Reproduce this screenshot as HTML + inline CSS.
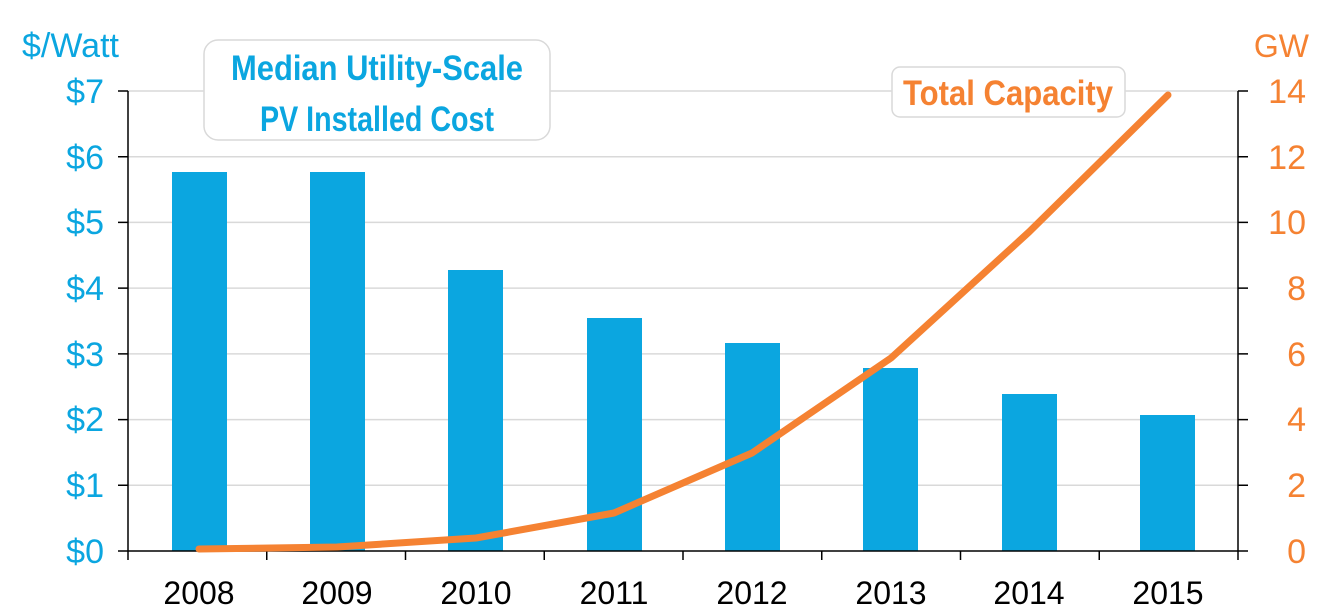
<!DOCTYPE html>
<html><head><meta charset="utf-8"><style>
html,body{margin:0;padding:0;background:#fff;}
svg{display:block;}
</style></head><body>
<svg width="1319" height="615" viewBox="0 0 1319 615" xmlns="http://www.w3.org/2000/svg" font-family="Liberation Sans, Arial, sans-serif">
<g stroke="#d9d9d9" stroke-width="1.5">
<line x1="128" x2="1238" y1="91" y2="91"/>
<line x1="128" x2="1238" y1="156.7" y2="156.7"/>
<line x1="128" x2="1238" y1="222.4" y2="222.4"/>
<line x1="128" x2="1238" y1="288.1" y2="288.1"/>
<line x1="128" x2="1238" y1="353.9" y2="353.9"/>
<line x1="128" x2="1238" y1="419.6" y2="419.6"/>
<line x1="128" x2="1238" y1="485.3" y2="485.3"/>
</g>
<g fill="#0ba6e0">
<rect x="172" y="172" width="55" height="379"/>
<rect x="310" y="172" width="55" height="379"/>
<rect x="448" y="270" width="55" height="281"/>
<rect x="587" y="318" width="55" height="233"/>
<rect x="725" y="343" width="55" height="208"/>
<rect x="863" y="368" width="55" height="183"/>
<rect x="1002" y="394" width="55" height="157"/>
<rect x="1140" y="415" width="55" height="136"/>
</g>
<g stroke="#000" stroke-width="1.5" fill="none">
<line x1="128" y1="91" x2="128" y2="560"/>
<line x1="1238" y1="91" x2="1238" y2="560"/>
<line x1="118" y1="551" x2="1248" y2="551"/>
<path d="M118 91H128M118 156.7H128M118 222.4H128M118 288.1H128M118 353.9H128M118 419.6H128M118 485.3H128"/>
<path d="M1238 91H1248M1238 156.7H1248M1238 222.4H1248M1238 288.1H1248M1238 353.9H1248M1238 419.6H1248M1238 485.3H1248"/>
<path d="M266.75 551V560M405.5 551V560M544.25 551V560M683 551V560M821.75 551V560M960.5 551V560M1099.25 551V560"/>
</g>
<polyline fill="none" stroke="#f58232" stroke-width="7" stroke-linecap="round" stroke-linejoin="round" points="199,549 337,547 476,538 614,513 752,453 891,358 1029,232 1168,95"/>
<g fill="#0ba6e0" font-size="34" text-anchor="end">
<text x="104" y="103">$7</text><text x="104" y="169">$6</text><text x="104" y="234">$5</text><text x="104" y="300">$4</text><text x="104" y="366">$3</text><text x="104" y="431">$2</text><text x="104" y="497">$1</text><text x="104" y="563">$0</text>
</g>
<text x="22" y="57" fill="#0ba6e0" font-size="34">$/Watt</text>
<g fill="#f58232" font-size="34" text-anchor="end">
<text x="1306" y="103">14</text><text x="1306" y="169">12</text><text x="1306" y="234">10</text><text x="1306" y="300">8</text><text x="1306" y="366">6</text><text x="1306" y="431">4</text><text x="1306" y="497">2</text><text x="1306" y="563">0</text>
</g>
<text x="1309" y="57" fill="#f58232" font-size="32" text-anchor="end">GW</text>
<g fill="#000" font-size="32" text-anchor="middle">
<text x="199" y="604">2008</text><text x="337" y="604">2009</text><text x="476" y="604">2010</text><text x="614" y="604">2011</text><text x="752" y="604">2012</text><text x="891" y="604">2013</text><text x="1029" y="604">2014</text><text x="1168" y="604">2015</text>
</g>
<rect x="204" y="40" width="346" height="100" rx="14" fill="#fff" stroke="#d9d9d9" stroke-width="1.5"/>
<text x="377" y="80" fill="#0ba6e0" font-size="35" font-weight="bold" text-anchor="middle" textLength="292" lengthAdjust="spacingAndGlyphs">Median Utility-Scale</text>
<text x="377" y="131" fill="#0ba6e0" font-size="35" font-weight="bold" text-anchor="middle" textLength="234" lengthAdjust="spacingAndGlyphs">PV Installed Cost</text>
<rect x="892" y="67" width="233" height="50" rx="8" fill="#fff" stroke="#d9d9d9" stroke-width="1.5"/>
<text x="1008" y="105" fill="#f58232" font-size="35" font-weight="bold" text-anchor="middle" textLength="210" lengthAdjust="spacingAndGlyphs">Total Capacity</text>
</svg>
</body></html>
